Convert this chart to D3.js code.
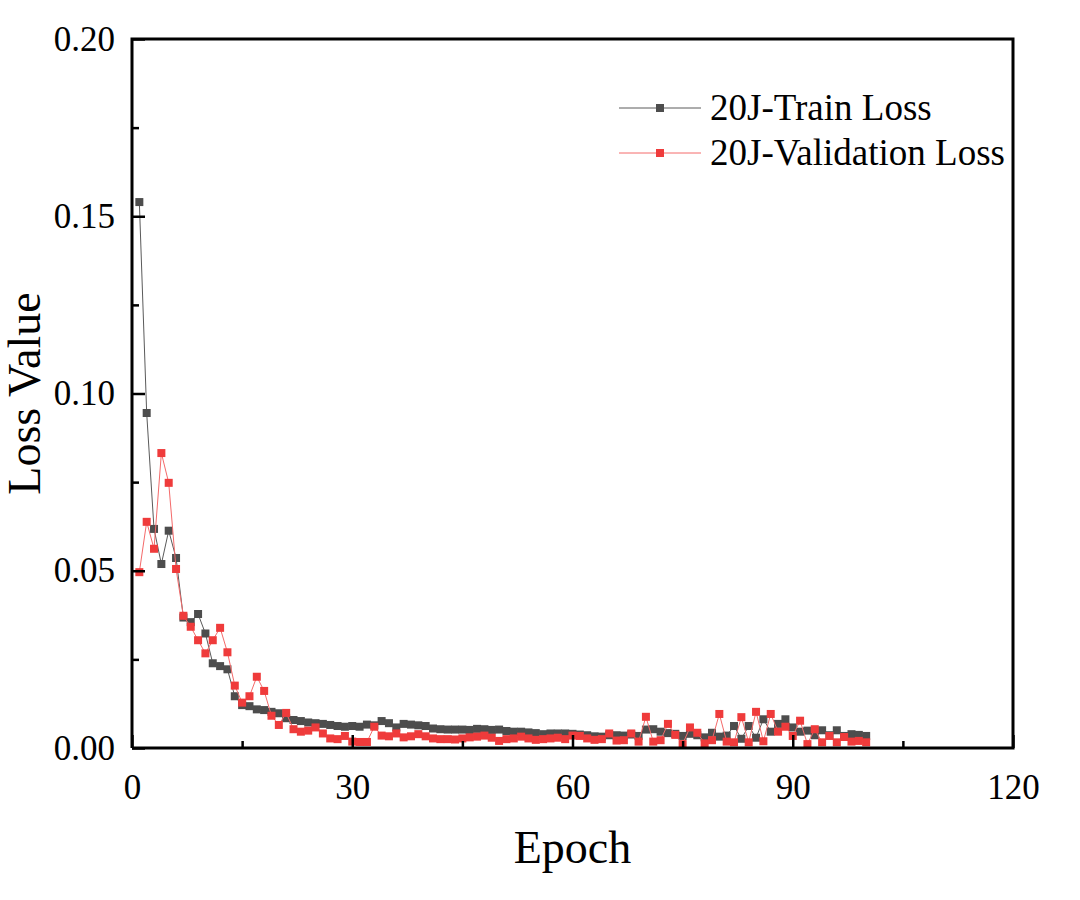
<!DOCTYPE html>
<html>
<head>
<meta charset="utf-8">
<script src="https://cdn.jsdelivr.net/npm/d3@7"></script>
<style>
  html, body { margin: 0; padding: 0; background: #fff; }
  svg { display: block; }
</style>
</head>
<body>
<svg width="1080" height="900"></svg>
<script>
/* ===============================
   Data
   =============================== */
let epochs = d3.range(1, 101);

let trainLoss = [
  0.154, 0.0945, 0.0618, 0.0519, 0.0613, 0.0536, 0.0368, 0.0355, 0.0378, 0.0323,
  0.0239, 0.0231, 0.0222, 0.0146, 0.0121, 0.0118, 0.0109, 0.0107, 0.0102, 0.0098,
  0.0084, 0.0079, 0.0076, 0.0072, 0.0070, 0.0068, 0.0065, 0.0062, 0.0060, 0.0062,
  0.0060, 0.0066, 0.0064, 0.0076, 0.0070, 0.0058, 0.0068, 0.0066, 0.0064, 0.0062,
  0.0055, 0.0053, 0.0052, 0.0052, 0.0052, 0.0051, 0.0054, 0.0053, 0.0051, 0.0052,
  0.0048, 0.0046, 0.0046, 0.0044, 0.0042, 0.0039, 0.0041, 0.0041, 0.0041, 0.0040,
  0.0038, 0.0036, 0.0033, 0.0032, 0.0036, 0.0036, 0.0035, 0.0038, 0.0034, 0.0052,
  0.0053, 0.0046, 0.0042, 0.0040, 0.0034, 0.0040, 0.0036, 0.0030, 0.0043, 0.0032,
  0.0035, 0.0062, 0.0026, 0.0062, 0.0029, 0.0081, 0.0046, 0.0068, 0.0081, 0.0058,
  0.0046, 0.0049, 0.0036, 0.0050, 0.0036, 0.0050, 0.0034, 0.0039, 0.0037, 0.0034
];

let validationLoss = [
  0.0496, 0.0638, 0.0562, 0.0832, 0.0748, 0.0505, 0.0373, 0.0342, 0.0304, 0.0267,
  0.0304, 0.0339, 0.0270, 0.0176, 0.0128, 0.0146, 0.0201, 0.0161, 0.0091, 0.0065,
  0.0099, 0.0053, 0.0046, 0.0049, 0.0058, 0.0041, 0.0027, 0.0025, 0.0034, 0.0018,
  0.0017, 0.0017, 0.0060, 0.0035, 0.0033, 0.0041, 0.0030, 0.0033, 0.0039, 0.0033,
  0.0027, 0.0025, 0.0025, 0.0024, 0.0027, 0.0030, 0.0032, 0.0035, 0.0029, 0.0020,
  0.0025, 0.0027, 0.0032, 0.0027, 0.0023, 0.0025, 0.0027, 0.0029, 0.0025, 0.0035,
  0.0034, 0.0027, 0.0023, 0.0025, 0.0041, 0.0021, 0.0022, 0.0041, 0.0018, 0.0088,
  0.0018, 0.0022, 0.0068, 0.0037, 0.0011, 0.0058, 0.0043, 0.0013, 0.0022, 0.0096,
  0.0018, 0.0016, 0.0087, 0.0016, 0.0102, 0.0019, 0.0096, 0.0046, 0.0060, 0.0034,
  0.0077, 0.0011, 0.0053, 0.0016, 0.0034, 0.0016, 0.0031, 0.0018, 0.0020, 0.0016
];

let xMajorTicks = [0, 30, 60, 90, 120];
let xMinorTicks = [15, 45, 75, 105];
let yMajorTicks = [0, 0.05, 0.10, 0.15, 0.20];
let yMinorTicks = [0.025, 0.075, 0.125, 0.175];

let seriesNames = ["20J-Train Loss", "20J-Validation Loss"];

/* ===============================
   Layout
   =============================== */
let plotLeft = 132, plotRight = 1013, plotTop = 39, plotBottom = 748;
let font = "'Liberation Serif', 'Times New Roman', serif";

let svg = d3.select("svg");
svg.append("rect").attr("width", 1080).attr("height", 900).attr("fill", "#fff");

let x = d3.scaleLinear().domain([0, 120]).range([plotLeft, plotRight]);
let y = d3.scaleLinear().domain([0, 0.2]).range([plotBottom, plotTop]);

/* ===============================
   Series
   =============================== */
let series = [
  { name: seriesNames[0], values: trainLoss, line: "#5a5a5a", mark: "#4d4d4d" },
  { name: seriesNames[1], values: validationLoss, line: "#f46a6a", mark: "#ef3b3b" }
];

let line = d3.line()
  .x((d, i) => x(epochs[i]))
  .y(d => y(d));

let size = 8;
series.forEach(s => {
  svg.append("path")
    .attr("d", line(s.values))
    .attr("fill", "none")
    .attr("stroke", s.line)
    .attr("stroke-width", 1);

  svg.append("g").selectAll("rect")
    .data(s.values)
    .join("rect")
    .attr("x", (d, i) => x(epochs[i]) - size / 2)
    .attr("y", d => y(d) - size / 2)
    .attr("width", size)
    .attr("height", size)
    .attr("fill", s.mark);
});

/* ===============================
   Axes (ticks point inward)
   =============================== */
let xAxis = svg.append("g")
  .attr("transform", `translate(0,${plotBottom})`)
  .call(d3.axisBottom(x).tickValues(xMajorTicks).tickSize(-13).tickPadding(26).tickFormat(d3.format("d")));
xAxis.append("g")
  .call(d3.axisBottom(x).tickValues(xMinorTicks).tickSize(-7).tickFormat(""));

let yAxis = svg.append("g")
  .attr("transform", `translate(${plotLeft},0)`)
  .call(d3.axisLeft(y).tickValues(yMajorTicks).tickSize(-13).tickPadding(17).tickFormat(d3.format(".2f")));
yAxis.append("g")
  .call(d3.axisLeft(y).tickValues(yMinorTicks).tickSize(-7).tickFormat(""));

svg.selectAll(".domain").remove();
svg.selectAll(".tick line").attr("stroke", "#000").attr("stroke-width", 2.5);
svg.selectAll(".tick text")
  .attr("font-family", font)
  .attr("font-size", 35)
  .attr("fill", "#000");

// frame: left, top, right, bottom
svg.append("path")
  .attr("d", `M${plotLeft},${plotBottom}V${plotTop}H${plotRight}V${plotBottom}H${plotLeft}`)
  .attr("fill", "none")
  .attr("stroke", "#000")
  .attr("stroke-width", 3)
  .attr("stroke-linejoin", "miter");

/* ===============================
   Axis titles
   =============================== */
svg.append("text")
  .attr("x", (plotLeft + plotRight) / 2)
  .attr("y", 863)
  .attr("text-anchor", "middle")
  .attr("font-family", font)
  .attr("font-size", 46)
  .text("Epoch");

svg.append("text")
  .attr("transform", `translate(40,${(plotTop + plotBottom) / 2}) rotate(-90)`)
  .attr("text-anchor", "middle")
  .attr("font-family", font)
  .attr("font-size", 46)
  .text("Loss Value");

/* ===============================
   Legend
   =============================== */
let legend = svg.append("g");
series.forEach((s, i) => {
  let ly = 108 + i * 45;
  legend.append("line")
    .attr("x1", 619).attr("x2", 701)
    .attr("y1", ly).attr("y2", ly)
    .attr("stroke", s.line)
    .attr("stroke-width", 1);
  legend.append("rect")
    .attr("x", 660 - size / 2).attr("y", ly - size / 2)
    .attr("width", size).attr("height", size)
    .attr("fill", s.mark);
  legend.append("text")
    .attr("x", 710)
    .attr("y", ly + 12)
    .attr("font-family", font)
    .attr("font-size", 37)
    .text(s.name);
});
</script>
</body>
</html>
